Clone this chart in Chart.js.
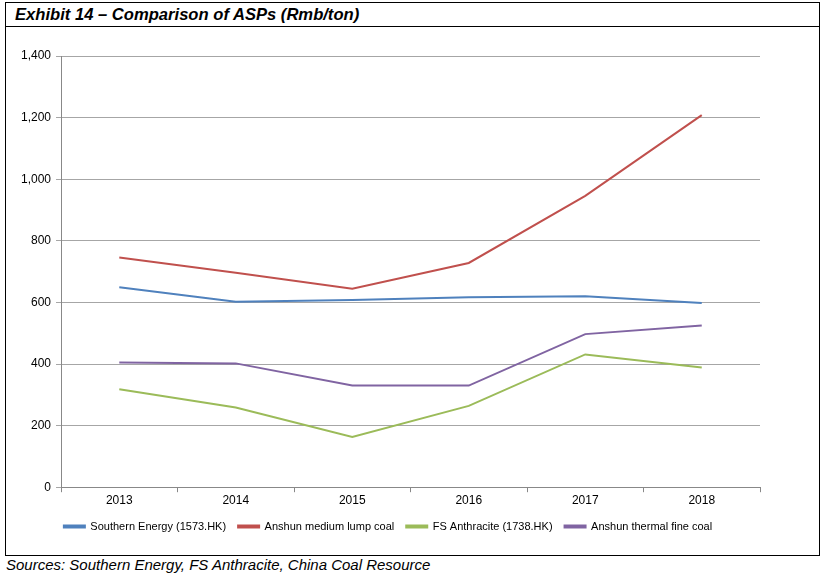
<!DOCTYPE html>
<html>
<head>
<meta charset="utf-8">
<script src="https://cdn.jsdelivr.net/npm/chart.js@4.4.1/dist/chart.umd.min.js"></script>
<style>
  html, body { margin:0; padding:0; background:#fff; }
  body { width:826px; height:578px; position:relative; overflow:hidden; font-family:"Liberation Sans", Arial, sans-serif; }
  #box { position:absolute; left:5px; top:2px; width:815px; height:554px; border:1px solid #000; box-sizing:border-box; }
  #title { position:absolute; left:5px; top:2px; width:815px; height:25px; border:1px solid #000; box-sizing:border-box; font-weight:bold; font-style:italic; font-size:16.6px; line-height:23px; padding-left:9px; color:#000; }
  #wrap { position:absolute; left:6px; top:27px; width:813px; height:528px; }
  #src { position:absolute; left:6px; top:556px; font-style:italic; font-size:15px; color:#000; }
</style>
</head>
<body>
<div id="box"></div>
<div id="title">Exhibit 14 – Comparison of ASPs (Rmb/ton)</div>
<div id="wrap"><canvas id="c" width="813" height="528"></canvas></div>
<div id="src">Sources: Southern Energy, FS Anthracite, China Coal Resource</div>
<script>
const years = ["2013", "2014", "2015", "2016", "2017", "2018"];
const southernEnergy = [649, 602, 608, 617, 620, 598];
const anshunLump = [746, 696, 644, 728, 946, 1208];
const fsAnthracite = [318, 259, 163, 264, 431, 389];
const anshunThermal = [405, 402, 330, 330, 497, 525];
const seriesNames = ["Southern Energy (1573.HK)", "Anshun medium lump coal", "FS Anthracite (1738.HK)", "Anshun thermal fine coal"];
const seriesColors = ["#4F81BD", "#C0504D", "#9BBB59", "#8064A2"];
const seriesData = [southernEnergy, anshunLump, fsAnthracite, anshunThermal];

Chart.defaults.font.family = '"Liberation Sans", Arial, sans-serif';
Chart.defaults.color = '#000';

new Chart(document.getElementById('c'), {
  type: 'line',
  data: {
    labels: years,
    datasets: seriesData.map((d, i) => ({
      label: seriesNames[i],
      data: d,
      borderColor: seriesColors[i],
      backgroundColor: seriesColors[i],
      borderWidth: 2,
      pointRadius: 0,
      tension: 0,
      fill: false
    }))
  },
  options: {
    responsive: false,
    animation: false,
    layout: { padding: { left: 10, right: 59, top: 29, bottom: 13 } },
    plugins: {
      legend: {
        position: 'bottom',
        labels: { boxWidth: 21, boxHeight: 2, padding: 12, font: { size: 11 }, color: '#000' }
      },
      tooltip: { enabled: false }
    },
    scales: {
      x: {
        offset: true,
        grid: { offset: true, drawOnChartArea: false, drawTicks: true, tickLength: 5, color: '#888' },
        border: { color: '#888', width: 1 },
        ticks: { font: { size: 12, lineHeight: 0.9 }, color: '#000', padding: 3 }
      },
      y: {
        min: 0, max: 1400,
        ticks: { stepSize: 200, font: { size: 12 }, color: '#000', padding: 5 },
        grid: { color: '#a6a6a6', tickLength: 5 },
        border: { color: '#888', width: 1 }
      }
    }
  }
});
</script>
</body>
</html>
